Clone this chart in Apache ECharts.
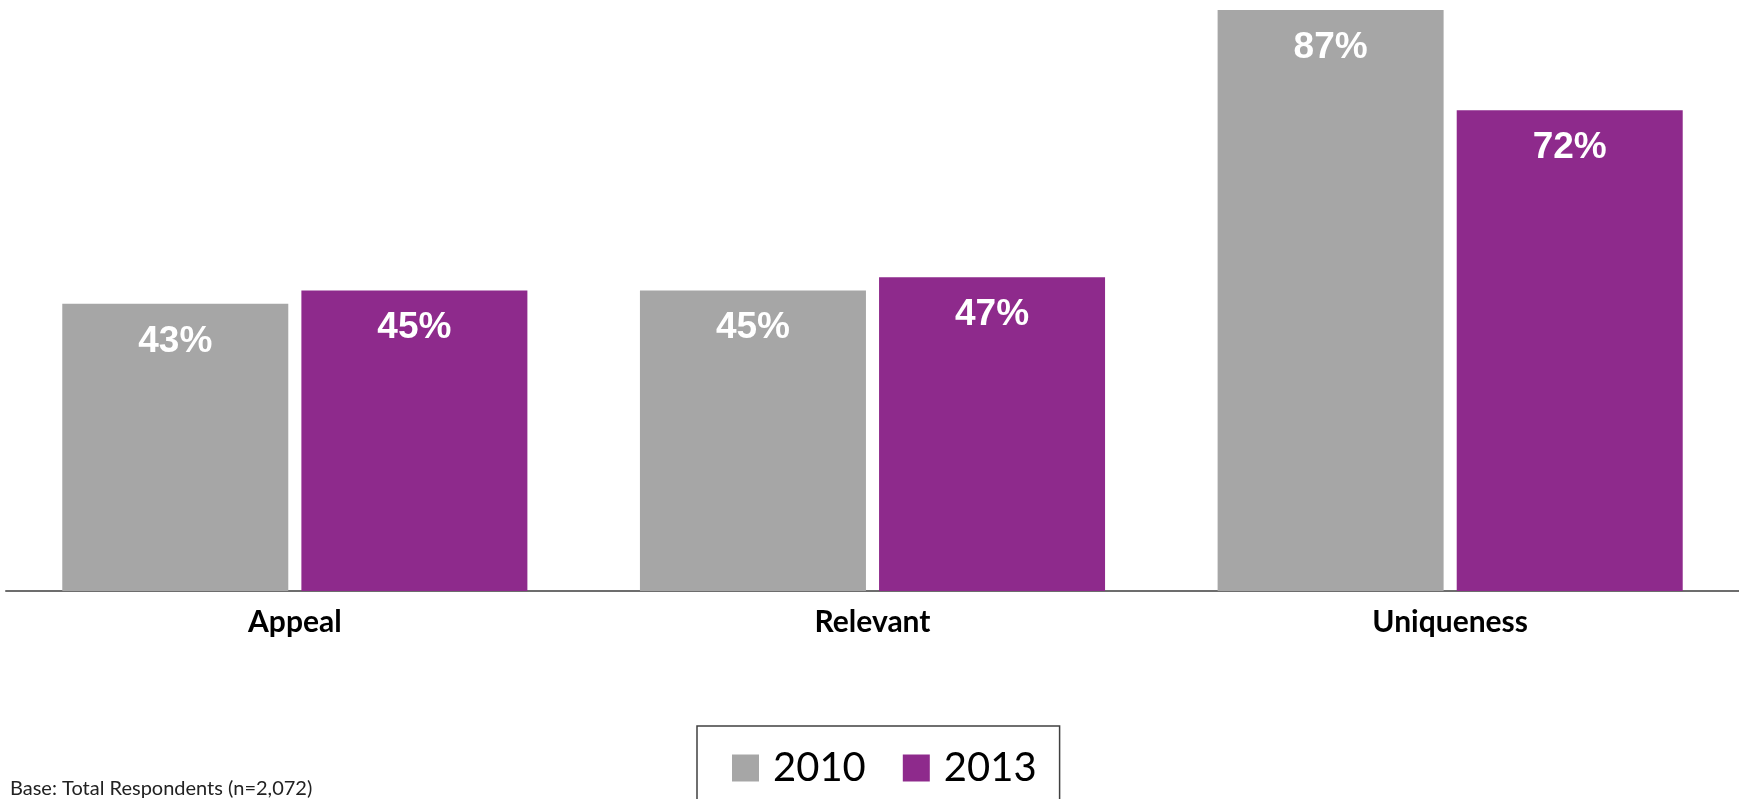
<!DOCTYPE html>
<html>
<head>
<meta charset="utf-8">
<style>
  html, body { margin: 0; padding: 0; background: #fff; }
  #chart { width: 1739px; height: 799px; }
</style>
<script src="https://cdn.jsdelivr.net/npm/echarts@6/dist/echarts.min.js"></script>
</head>
<body>
<div id="chart"></div>
<script>
// 数据
var categories = ['Appeal', 'Relevant', 'Uniqueness'];
var seriesNames = ['2010', '2013'];
var values2010 = [43, 45, 87];
var values2013 = [45, 47, 72];

var chart = echarts.init(document.getElementById('chart'));

var barLabel = {
  show: true,
  position: 'insideTop',
  distance: 19,
  formatter: '{c}%',
  color: '#fff',
  fontFamily: 'Liberation Sans',
  fontWeight: 'bold',
  fontSize: 37
};

var option = {
  animation: false,
  grid: { left: 6, right: 0, top: 10, bottom: 208 },
  legend: {
    data: seriesNames,
    left: 697,
    top: 726,
    padding: [22, 23, 30, 35],
    borderColor: '#404040',
    borderWidth: 1.5,
    itemWidth: 27,
    itemHeight: 27,
    itemGap: 37,
    icon: 'rect',
    textStyle: {
      fontFamily: 'Lato',
      fontSize: 40,
      color: '#000',
      padding: [0, 0, 0, 9]
    }
  },
  graphic: [{
    type: 'text',
    left: 10,
    top: 779,
    style: {
      text: 'Base: Total Respondents (n=2,072)',
      font: '20px Lato',
      fill: '#222'
    }
  }],
  xAxis: {
    type: 'category',
    data: categories,
    axisTick: { show: false },
    axisLine: { lineStyle: { color: '#6d6d6d', width: 2 } },
    axisLabel: {
      margin: 16,
      fontFamily: 'Lato',
      fontWeight: 'bold',
      fontSize: 30,
      color: '#000'
    }
  },
  yAxis: {
    type: 'value',
    min: 0,
    max: 87,
    show: false,
    splitLine: { show: false }
  },
  series: [
    {
      name: '2010',
      type: 'bar',
      data: values2010,
      barWidth: 226,
      barGap: '5.8%',
      itemStyle: { color: '#A6A6A6' },
      label: barLabel
    },
    {
      name: '2013',
      type: 'bar',
      data: values2013,
      barWidth: 226,
      barGap: '5.8%',
      itemStyle: { color: '#8E2A8C' },
      label: barLabel
    }
  ]
};

chart.setOption(option);
</script>
</body>
</html>
